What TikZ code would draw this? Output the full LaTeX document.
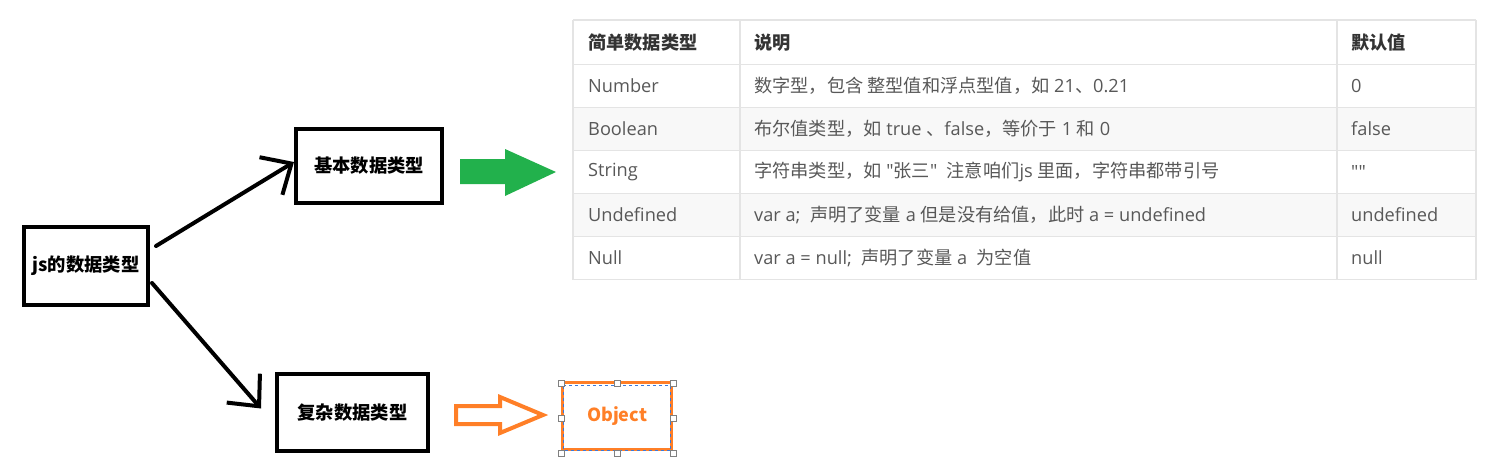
\documentclass[tikz,border=0pt]{standalone}
\usepackage{fontspec}
\setmainfont{Open Sans}
\newfontfamily\cjk{Noto Sans CJK SC}
\usetikzlibrary{arrows.meta}
\definecolor{paintgreen}{HTML}{22B14C}
\definecolor{paintorange}{HTML}{FF7F27}
\definecolor{gridgrey}{HTML}{E4E4E4}
\definecolor{rowgrey}{HTML}{F8F8F8}
\definecolor{cellgrey}{HTML}{585858}
\definecolor{headgrey}{HTML}{333333}
\definecolor{selblue}{HTML}{3C78D8}
\newcommand{\zh}[1]{{\cjk #1}}
\tikzset{
  typebox/.style 2 args={draw, line width=4pt, inner sep=0pt,
    minimum width=#1, minimum height=#2,
    font=\cjk\bfseries\fontsize{18.3}{20}\selectfont},
  barb/.style={line width=4pt, line cap=round, line join=round,
    -{Straight Barb[length=24pt,width=44pt,line width=4pt]}},
  gridline/.style={draw=gridgrey, line width=1.3pt},
  cell/.style={anchor=west, inner sep=0pt, text=cellgrey,
    font=\fontsize{18.2}{20}\selectfont},
  headcell/.style={cell, text=headgrey, font=\cjk\bfseries\fontsize{18.2}{20}\selectfont},
  handle/.style={draw=gray, fill=white, line width=0.8pt}
}
\begin{document}
\begin{tikzpicture}[x=1pt,y=-1pt]
  \useasboundingbox (0,0) rectangle (1505,466);

  % the three type boxes
  \node[typebox={124}{78}] (js) at (86,266) {js的数据类型};
  \node[typebox={146}{74}] (basic) at (369,166) {基本数据类型};
  \node[typebox={151}{77}] (complex) at (352.5,412.5) {复杂数据类型};
  \draw[barb] ([shift={(6,-20)}]js.east) -- ([shift={(0,-4)}]basic.west);
  \draw[barb] ([shift={(2,17)}]js.east) -- ([shift={(-14,-4)}]complex.west);

  % block arrows
  \fill[paintgreen] (460,159) -- (505,159) -- (505,149) -- (556,172)
    -- (505,196) -- (505,184) -- (460,184) -- cycle;
  \draw[paintorange, line width=4pt] (456,406) -- (500,406) -- (500,397)
    -- (543,415) -- (500,433) -- (500,424) -- (456,424) -- cycle;

  % Object box (selected)
  \node[draw=paintorange, line width=3pt, inner sep=0pt, minimum width=109,
    minimum height=67, text=paintorange,
    font=\cjk\bfseries\fontsize{18}{20}\selectfont] (object) at (617,416) {Object};
  \draw[selblue, line width=0.8pt, dashed] (563.5,385.5) rectangle (670.5,450.5);
  \foreach \x in {561,617,673}
    \foreach \y in {383,453}
      \filldraw[handle] (\x-3,\y-3) rectangle (\x+3,\y+3);
  \foreach \x in {561,673}
    \filldraw[handle] (\x-3,415) rectangle (\x+3,421);

  % table of simple types
  \foreach \y in {107.5,193.5}
    \fill[rowgrey] (573,\y) rectangle (1476,\y+43);
  \foreach \y in {20,64.5,107.5,150.5,193.5,236.5,279.5}
    \draw[gridline] (573,\y) -- (1476,\y);
  \foreach \x in {573,740,1337,1476}
    \draw[gridline] (\x,20) -- (\x,279.5);

  \node[headcell] (h1) at (588,43) {简单数据类型};
  \node[headcell] (h2) at (754,43) {说明};
  \node[headcell] (h3) at (1351,43) {默认值};

  \node[cell] (n1) at (588,86) {Number};
  \node[cell] (n2) at (754,86) {\zh{数字型，包含 整型值和浮点型值，如} 21\zh{、}0.21};
  \node[cell] (n3) at (1351,86) {0};

  \node[cell] (b1) at (588,129) {Boolean};
  \node[cell] (b2) at (754,129) {\zh{布尔值类型，如} true \zh{、}false\zh{，等价于} 1 \zh{和} 0};
  \node[cell] (b3) at (1351,129) {false};

  \node[cell] (s1) at (588,172) {String};
  \node[cell] (s2) at (754,172) {\zh{字符串类型，如} \textquotedbl\zh{张三}\textquotedbl\ \ \zh{注意咱们}js \zh{里面，字符串都带引号}};
  \node[cell] (s3) at (1351,172) {\textquotedbl\textquotedbl};

  \node[cell] (u1) at (588,215) {Undefined};
  \node[cell] (u2) at (754,215) {var a;\ \ \zh{声明了变量} a \zh{但是没有给值，此时} a = undefined};
  \node[cell] (u3) at (1351,215) {undefined};

  \node[cell] (l1) at (588,258) {Null};
  \node[cell] (l2) at (754,258) {var a = null;\ \ \zh{声明了变量} a\ \ \zh{为空值}};
  \node[cell] (l3) at (1351,258) {null};
\end{tikzpicture}
\end{document}
